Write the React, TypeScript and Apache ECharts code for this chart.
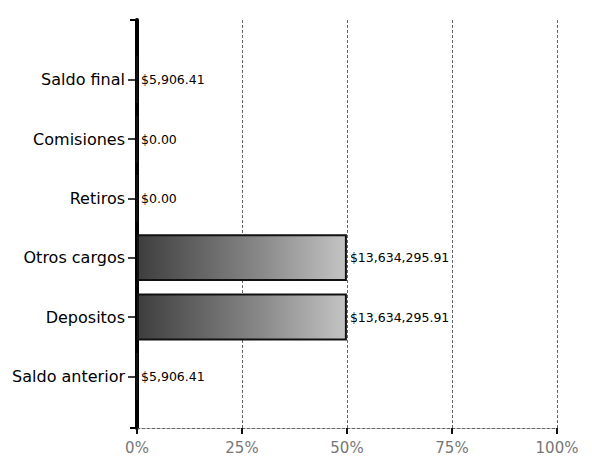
import React, { useEffect, useRef } from "react";
import * as echarts from "echarts";

const categories = ["Saldo anterior", "Depositos", "Otros cargos", "Retiros", "Comisiones", "Saldo final"];
const amounts = [5906.41, 13634295.91, 13634295.91, 0.0, 0.0, 5906.41];
const xTicks = [0, 25, 50, 75, 100];

const fmt = (v: number) =>
  "$" + v.toLocaleString("en-US", { minimumFractionDigits: 2, maximumFractionDigits: 2 });

export default function App() {
  const ref = useRef<HTMLDivElement>(null);
  useEffect(() => {
    if (!ref.current) return;
    const chart = echarts.init(ref.current, null, { renderer: "svg" });
    const total = amounts.reduce((a, b) => a + b, 0);
    const shares = amounts.map((v) => (v / total) * 100);
    const font = "DejaVu Sans";
    chart.setOption({
      animation: false,
      backgroundColor: "#ffffff",
      grid: [
        { left: 137, right: 35, top: 20, bottom: 37 },
        { left: 137, right: 35, top: 50, bottom: 59 },
      ],
      xAxis: [
        {
          gridIndex: 0,
          type: "value",
          min: xTicks[0],
          max: xTicks[xTicks.length - 1],
          interval: 25,
          axisLine: { show: true, lineStyle: { color: "#666", width: 1, type: [3, 2] } },
          axisTick: { show: true, length: 6, lineStyle: { color: "#111", width: 2 } },
          axisLabel: {
            formatter: (v: number) => v + "%",
            fontFamily: font,
            fontSize: 15,
            color: "#777",
            margin: 12,
          },
          splitLine: { show: true, lineStyle: { color: "#666", width: 1, type: [3, 2] } },
        },
        {
          gridIndex: 1,
          type: "value",
          min: 0,
          max: 100,
          show: false,
        },
      ],
      yAxis: [
        {
          gridIndex: 0,
          type: "value",
          min: 0,
          max: 1,
          interval: 1,
          axisLine: { show: true, lineStyle: { color: "#000", width: 4 } },
          axisTick: { show: true, length: 7, lineStyle: { color: "#000", width: 2 } },
          axisLabel: { show: false },
          splitLine: { show: false },
        },
        {
          gridIndex: 1,
          type: "category",
          data: categories,
          axisLine: { show: false },
          axisTick: { show: true, length: 9, alignWithLabel: true, lineStyle: { color: "#000", width: 1.5 } },
          axisLabel: { fontFamily: font, fontSize: 16, color: "#000", margin: 12 },
        },
      ],
      series: [
        {
          type: "bar",
          xAxisIndex: 1,
          yAxisIndex: 1,
          data: shares,
          barCategoryGap: "21%",
          itemStyle: {
            color: new echarts.graphic.LinearGradient(0, 0, 1, 0, [
              { offset: 0, color: "#3e3e3e" },
              { offset: 0.6, color: "#8a8a8a" },
              { offset: 1, color: "#c4c4c4" },
            ]),
            borderColor: "#111",
            borderWidth: 2,
          },
          label: {
            show: true,
            position: "right",
            distance: 3,
            fontFamily: font,
            fontSize: 12.5,
            color: "#000",
            formatter: (p: any) => fmt(amounts[p.dataIndex]),
          },
        },
      ],
    });
    return () => chart.dispose();
  }, []);
  return (
    <div
      ref={ref}
      style={{ position: "absolute", left: 0, top: 0, width: 592, height: 465 }}
    />
  );
}
